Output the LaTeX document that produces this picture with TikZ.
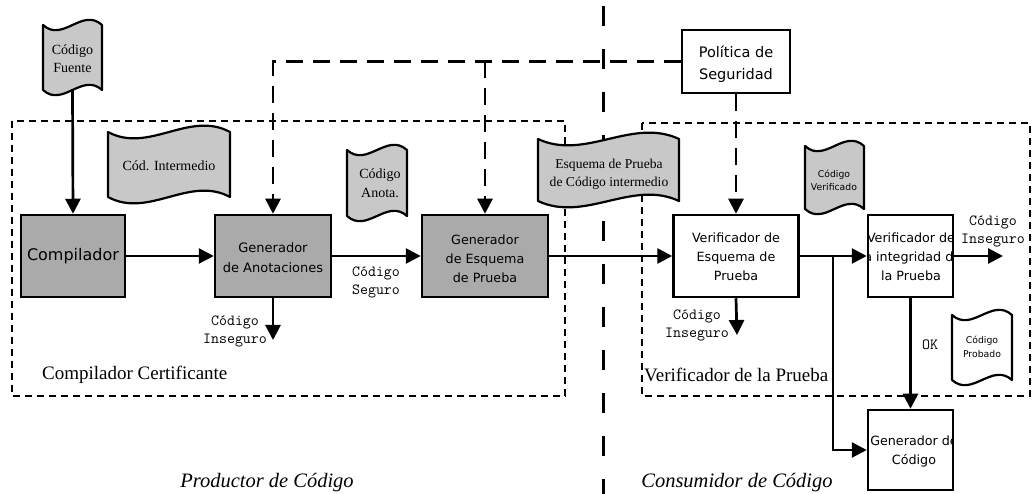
\documentclass[tikz,border=0pt]{standalone}
\usepackage{fontspec}
\setmainfont{Liberation Serif}
\newfontfamily\sansbox{DejaVu Sans}
\usetikzlibrary{arrows.meta,calc}
\definecolor{boxgray}{RGB}{170,170,170}
\definecolor{docgray}{RGB}{200,200,200}
\tikzset{
 proc/.style={draw, line width=2.5pt, fill=boxgray, inner sep=0pt},
 procw/.style={proc, fill=white},
 proctext/.style={align=center, inner sep=0pt, font=\sansbox\fontsize{12.7}{19}\selectfont},
 flow/.style={line width=2.7pt, -{Triangle[length=15pt,width=15pt]}},
 polflow/.style={line width=2.7pt, dash pattern=on 17pt off 10pt},
 polarrow/.style={polflow, -{Triangle[length=15pt,width=15pt]}},
 group/.style={line width=1.3pt, dash pattern=on 7pt off 5pt},
 sepline/.style={line width=3pt, dash pattern=on 20pt off 23pt, dash phase=37pt},
 doc/.style={line width=2.2pt, draw, line join=round},
 doctext/.style={align=center, font=\fontsize{14}{18}\selectfont, inner sep=0pt},
 smalldoc/.style={align=center, font=\sansbox\fontsize{9.3}{13}\selectfont, inner sep=0pt},
 monolab/.style={align=center, font=\ttfamily\fontsize{15.5}{18}\selectfont, inner sep=0pt},
 grouplab/.style={font=\fontsize{19}{22}\selectfont, inner sep=0pt},
 sidelab/.style={font=\itshape\fontsize{20.5}{24}\selectfont, inner sep=0pt},
}
\newcommand\tapedoc[6]{%
 \filldraw[doc, fill=#6] (#1,#3) .. controls ({#1+(#2-#1)/3},{#3+#5}) and ({#1+2*(#2-#1)/3},{#3-#5}) .. (#2,#3) -- (#2,#4) .. controls ({#1+2*(#2-#1)/3},{#4-#5}) and ({#1+(#2-#1)/3},{#4+#5}) .. (#1,#4) -- cycle;}
\begin{document}
\begin{tikzpicture}[x=1pt,y=-1pt]
\useasboundingbox (0,0) rectangle (1034,494);
% separator
\coordinate (septop) at (603,0);
\coordinate (sepbot) at (603,494);
\draw[sepline] (septop) -- (sepbot);
% groups
\draw[group] (12,121) rectangle (565,396);
\draw[group] (642,123) rectangle (1030,396);
\node[grouplab, anchor=west] (cclab) at (42,375) {Compilador Certificante};
\node[grouplab, anchor=west] (vplab) at (644,375) {Verificador de la Prueba};
% documents
\tapedoc{43}{102}{25}{90}{18}{docgray}
\node[doctext] (fuente) at (72.5,59) {Código\\Fuente};
\coordinate (fuenteb) at (72.5,90);
\tapedoc{108}{230}{132}{197}{22}{docgray}
\node[doctext] (cinter) at (169,166) {Cód. Intermedio};
\tapedoc{347}{407}{150}{216}{18}{docgray}
\node[doctext, font=\fontsize{14}{19}\selectfont] (anota) at (380,183) {Código\\Anota.};
\tapedoc{538}{679}{139}{201}{22}{docgray}
\node[doctext, font=\fontsize{13.6}{18}\selectfont] (esqdoc) at (609,174) {Esquema de Prueba\\de Código intermedio};
\tapedoc{805}{864}{146}{209}{18}{docgray}
\node[smalldoc] (verifdoc) at (834,180) {Código\\Verificado};
\tapedoc{952}{1012}{315}{380}{18}{white}
\node[smalldoc, font=\sansbox\fontsize{9.3}{14}\selectfont] (probdoc) at (982,347) {Código\\Probado};
% boxes
\node[proc, minimum width=104pt, minimum height=82pt] (comp) at (73,256) {};
\node[proctext, font=\sansbox\fontsize{16}{19}\selectfont] (comptext) at (comp.center) {Compilador};
\node[proc, minimum width=116pt, minimum height=82pt] (genan) at (273,256) {};
\node[proctext, font=\sansbox\fontsize{13}{20}\selectfont] (genantext) at (273,258) {Generador\\de Anotaciones};
\node[proc, minimum width=126pt, minimum height=82pt] (genesq) at (485,256) {};
\node[proctext] (genesqtext) at (485,259) {Generador\\de Esquema\\de Prueba};
\node[procw, minimum width=125pt, minimum height=82pt] (veresq) at (736,256) {};
\node[proctext] (veresqtext) at (736,257) {Verificador de\\Esquema de\\Prueba};
\node[procw, minimum width=85pt, minimum height=82pt] (verint) at (910.5,256) {};
\begin{scope}
\clip (868,215) rectangle (953,297);
\node[proctext] (verinttext) at (911,257) {Verificador de\\la integridad de\\la Prueba};
\end{scope}
\node[procw, minimum width=85pt, minimum height=80pt] (gencod) at (910.5,450) {};
\begin{scope}
\clip (868,410) rectangle (953,490);
\node[proctext] (gencodtext) at (914,451) {Generador de\\Código};
\end{scope}
\node[procw, minimum width=108pt, minimum height=63pt] (pol) at (736,61.5) {};
\node[proctext, font=\sansbox\fontsize{14.5}{22}\selectfont] (poltext) at (736,64) {Política de\\Seguridad};
% flows
\draw[flow] (fuenteb) -- (comp.north);
\draw[flow] (comp.east) -- (genan.west);
\coordinate (ins1) at (273,340);
\draw[flow] (genan.south) -- (ins1);
\node[monolab] (ins1lab) at (235,331) {Código\\Inseguro};
\draw[flow] (genan.east) -- (genesq.west);
\node[monolab] (seglab) at (376,282) {Código\\Seguro};
\draw[flow] (genesq.east) -- (veresq.west);
\coordinate (ins2) at (737,335);
\draw[flow] (veresq.south) -- (ins2);
\node[monolab] (ins2lab) at (697,325) {Código\\Inseguro};
\draw[flow] (veresq.east) -- (verint.west);
\coordinate (br) at (833,256);
\draw[flow] (br) |- (gencod.west);
\coordinate (ins3) at (1003,256);
\draw[flow] (verint.east) -- (ins3);
\node[monolab] (ins3lab) at (993,231) {Código\\Inseguro};
\draw[flow] (verint.south) -- (gencod.north);
\node[monolab] (oklab) at (930,345) {OK};
% policy
\draw[polarrow] (pol.south) -- (veresq.north);
\draw[polarrow] (pol.west) -| (genan.north);
\coordinate (jn) at (genesq.north |- pol.west);
\draw[polarrow] (jn) -- (genesq.north);
% side labels
\node[sidelab] (prod) at (267,483) {Productor de Código};
\node[sidelab] (cons) at (737,483) {Consumidor de Código};
\end{tikzpicture}
\end{document}
